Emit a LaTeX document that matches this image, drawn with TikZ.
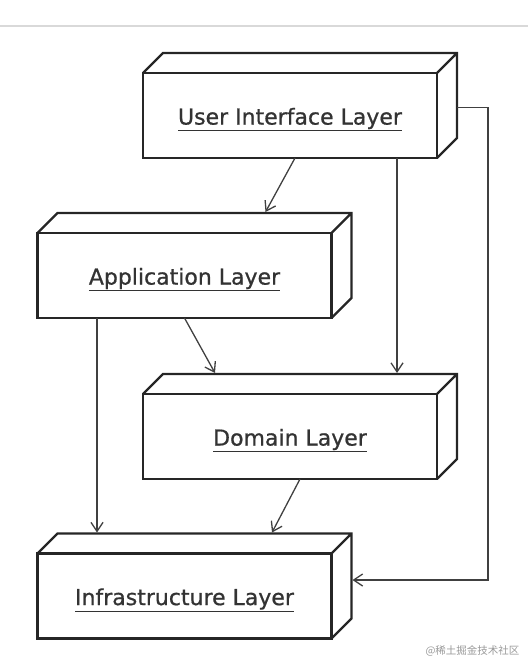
\documentclass[tikz,border=0pt]{standalone}
\usepackage{fontspec}
\setmainfont{DejaVu Sans}
\newfontfamily\layerfont[FakeBold=0.8]{DejaVu Sans}
\newfontfamily\cjk{Noto Sans CJK SC}
\usepackage{tikz}
\usetikzlibrary{calc,arrows.meta}
\newcommand{\layername}[1]{\raisebox{-4pt}[\height][\depth]{\underline{#1}}}

\begin{document}
\begin{tikzpicture}[%
  x=1pt, y=-1pt,
  layer/.style={draw=black!85, line width=2.4pt, outer sep=0pt, inner sep=0pt,
    minimum width=294pt, minimum height=85pt,
    font=\layerfont\fontsize{22}{26}\selectfont, text=black!80},
  box/.style={draw=black!85, line width=2.4pt},
  uses/.style={draw=black!75, line width=1.3pt,
    -{Straight Barb[length=9pt,width=12pt]}}]
  \useasboundingbox (0,0) rectangle (528,660);
  \draw[black!15, line width=2pt] (0,26) -- (528,26);

  \node[layer] (ui)    at (290,115.5) {\layername{User Interface Layer}};
  \node[layer] (app)   at (184.5,275.5) {\layername{Application Layer}};
  \node[layer] (dom)   at (290,436.5) {\layername{Domain Layer}};
  \node[layer] (infra) at (184.5,596) {\layername{Infrastructure Layer}};

  \foreach \n in {ui,app,dom,infra}
    \draw[box] (\n.north west) -- ++(20,-20) -- ($(\n.north east)+(20,-20)$)
      -- ($(\n.south east)+(20,-20)$) -- (\n.south east)
      (\n.north east) -- ++(20,-20);

  \draw[uses] ([xshift=5pt]ui.south) -- ($(app.north)+(81,-21)$);
  \draw[uses] ([xshift=107pt]ui.south) -- ($(dom.north)+(107,-21)$);
  \draw[uses] ($(ui.east)+(20,-8)$) -- ++(31,0) |- ($(infra.east)+(21,-16)$);
  \draw[uses] (app.south) -- ($(dom.north)+(-75,-21)$);
  \draw[uses] ([xshift=-87.5pt]app.south) -- ($(infra.north)+(-87.5,-21)$);
  \draw[uses] ([xshift=10pt]dom.south) -- ($(infra.north)+(87.5,-21)$);

  \node[anchor=east, text=black!40, font=\cjk\fontsize{10.5}{12}\selectfont]
    (mark) at (523,651) {@稀土掘金技术社区};
\end{tikzpicture}
\end{document}
